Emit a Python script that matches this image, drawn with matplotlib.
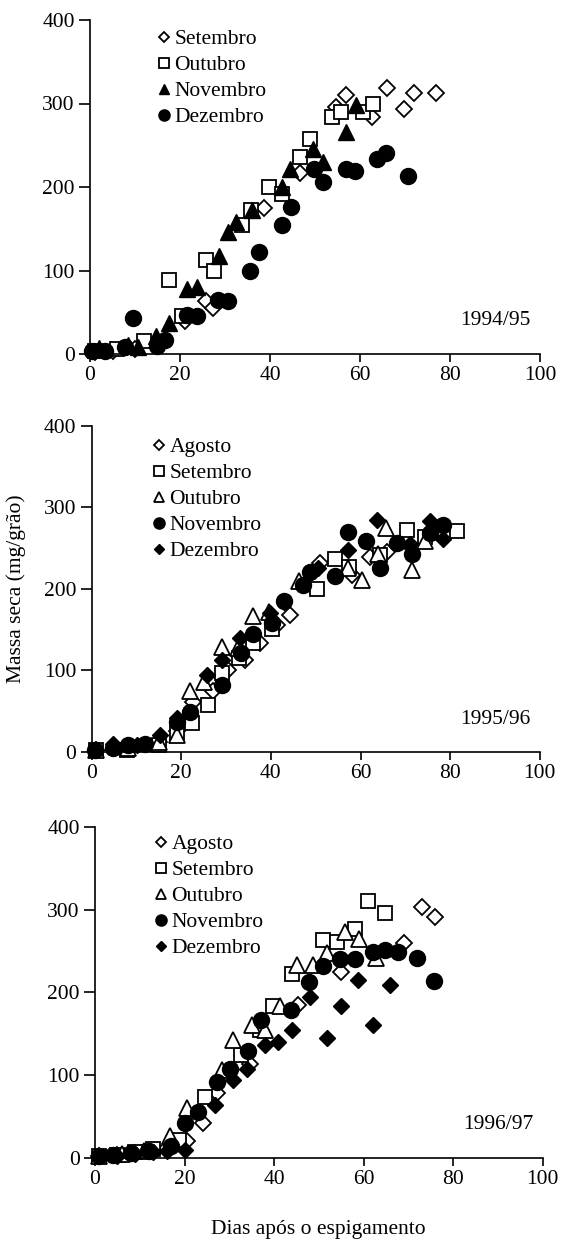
import matplotlib
matplotlib.use("Agg")
import matplotlib.pyplot as plt

plt.rcParams['font.family'] = ['Liberation Serif', 'DejaVu Serif']
plt.rcParams['font.size'] = 15.5

# ---------------- 1994/95 ----------------
set94_x = [1, 5, 10, 15, 21, 25.7, 27.4, 38.7, 46.7, 54.7, 56.9, 62.7, 65.9, 69.8, 71.9, 76.8]
set94_y = [2, 3, 6, 10, 40, 63, 55, 175, 217, 296, 310, 284, 319, 293, 312, 312]
out94_x = [1, 6, 12, 17.5, 20.5, 25.7, 27.6, 33.7, 35.7, 39.7, 42.6, 46.7, 48.8, 53.7, 55.7, 60.7, 62.8]
out94_y = [3, 6, 15, 89, 46, 112, 100, 154, 172, 200, 192, 236, 258, 284, 290, 290, 300]
nov94_x = [2, 8.5, 10.7, 14.6, 17.5, 21.6, 23.7, 28.6, 30.7, 32.4, 35.9, 42.6, 44.4, 49.6, 51.8, 56.9, 59.1]
nov94_y = [7, 11, 8, 22, 37, 78, 80, 117, 146, 158, 172, 200, 222, 246, 230, 266, 298]
dez94_x = [0.5, 3.3, 7.8, 9.6, 14.8, 16.7, 21.5, 23.7, 28.4, 30.6, 35.6, 37.6, 42.6, 44.6, 49.8, 51.8,
           56.9, 58.9, 63.7, 65.8, 70.7]
dez94_y = [3, 4, 8, 43, 10, 17, 47, 45, 65, 63, 99, 122, 154, 176, 222, 206, 221, 219, 233, 241, 213]

# ---------------- 1995/96 ----------------
ago95_x = [1, 8, 15, 19, 22.7, 27.1, 30.5, 34.2, 37.6, 41.3, 44.3, 51, 58, 62.1, 66, 70]
ago95_y = [2, 4, 12, 25, 61, 74, 100, 113, 133, 155, 168, 231, 217, 239, 245, 258]
set95_x = [1, 7.8, 15, 19, 22.3, 26, 29, 32.9, 36.1, 40.2, 50.2, 54.3, 57.4, 64.4, 70.3, 74.4, 81.5]
set95_y = [2, 2, 8, 23, 35, 57, 96, 115, 133, 150, 200, 237, 227, 241, 272, 264, 271]
out95_x = [1, 8, 15, 19, 22, 25, 29, 32.7, 36, 39.5, 46.3, 57.3, 60.3, 64, 65.8, 71.4, 74.4]
out95_y = [2, 5, 12, 20, 75, 86, 128, 127, 166, 171, 209, 225, 211, 243, 274, 223, 258]
nov95_x = [0.7, 4.8, 8.2, 11.9, 19, 21.9, 29, 33.3, 36.1, 40.2, 42.9, 47.2, 48.7, 54.3, 57.3, 61.2,
           64.4, 68.1, 71.4, 75.5, 78.5]
nov95_y = [2, 5, 8, 10, 37, 49, 82, 121, 145, 158, 185, 205, 221, 215, 270, 259, 225, 256, 243, 268, 278]
dez95_x = [1, 4.8, 10, 15.2, 19, 25.7, 29, 33.1, 39.8, 42.9, 50.5, 57.3, 63.6, 71, 75.5, 78.5]
dez95_y = [2, 10, 8, 20, 41, 94, 112, 139, 170, 184, 225, 247, 284, 255, 283, 261]

# ---------------- 1996/97 ----------------
ago96_x = [1, 5, 9, 13, 16, 20.5, 24.2, 27.2, 34.6, 45.3, 55, 69.1, 73, 76]
ago96_y = [2, 4, 6, 9, 12, 20, 42, 78, 114, 185, 224, 259, 303, 291]
set96_x = [1, 5, 9, 13, 18.8, 24.6, 32.6, 36.9, 39.8, 44, 51, 54, 58.1, 61.1, 64.8]
set96_y = [2, 4, 7, 11, 22, 74, 124, 155, 183, 222, 263, 261, 277, 310, 296]
out96_x = [1, 6, 11, 16.8, 20.5, 28.3, 30.9, 35, 38, 41.3, 45.1, 48.8, 51.8, 55.9, 59.1, 62.9]
out96_y = [2, 5, 8, 26, 60, 106, 143, 161, 155, 183, 233, 233, 247, 273, 264, 241]
nov96_x = [1, 4, 8, 12, 17, 20.1, 23.1, 27.2, 30.2, 34.3, 37.1, 43.9, 47.9, 50.9, 54.7, 58.1, 62.1,
           64.8, 67.8, 71.9, 75.8]
nov96_y = [3, 4, 6, 9, 14, 42, 56, 92, 108, 129, 167, 179, 213, 232, 240, 240, 249, 251, 249, 242, 214]
dez96_x = [1, 5, 9, 13, 16, 20.1, 26.8, 30.9, 34, 38, 41, 44, 48, 51.9, 54.9, 58.8, 62.1, 65.9]
dez96_y = [2, 3, 5, 7, 9, 10, 64, 94, 108, 136, 140, 154, 194, 145, 184, 215, 161, 209]

x_ticks = [0, 20, 40, 60, 80, 100]
y_ticks = [0, 100, 200, 300, 400]
xlabel = "Dias após o espigamento"
ylabel = "Massa seca (mg/grão)"

STYLE = {
    'open_diamond': dict(marker='D', ms=7.8, mfc='white', mec='black', mew=1.3),
    'open_square': dict(marker='s', ms=10.5, mfc='white', mec='black', mew=1.3),
    'open_triangle': dict(marker='^', ms=11, mfc='white', mec='black', mew=1.3),
    'filled_triangle': dict(marker='^', ms=11, mfc='black', mec='black', mew=1.0),
    'filled_circle': dict(marker='o', ms=11.5, mfc='black', mec='black', mew=1.0),
    'filled_diamond': dict(marker='D', ms=8, mfc='black', mec='black', mew=1.0),
}

panels = [
    dict(rect=[90, 20, 540, 354], year="1994/95",
         series=[("Setembro", set94_x, set94_y, 'open_diamond'),
                 ("Outubro", out94_x, out94_y, 'open_square'),
                 ("Novembro", nov94_x, nov94_y, 'filled_triangle'),
                 ("Dezembro", dez94_x, dez94_y, 'filled_circle')],
         leg=(155, 29)),
    dict(rect=[91.7, 425.7, 539.7, 751.7], year="1995/96",
         series=[("Agosto", ago95_x, ago95_y, 'open_diamond'),
                 ("Setembro", set95_x, set95_y, 'open_square'),
                 ("Outubro", out95_x, out95_y, 'open_triangle'),
                 ("Novembro", nov95_x, nov95_y, 'filled_circle'),
                 ("Dezembro", dez95_x, dez95_y, 'filled_diamond')],
         leg=(150, 437)),
    dict(rect=[95, 826.7, 542.5, 1158], year="1996/97",
         series=[("Agosto", ago96_x, ago96_y, 'open_diamond'),
                 ("Setembro", set96_x, set96_y, 'open_square'),
                 ("Outubro", out96_x, out96_y, 'open_triangle'),
                 ("Novembro", nov96_x, nov96_y, 'filled_circle'),
                 ("Dezembro", dez96_x, dez96_y, 'filled_diamond')],
         leg=(152, 834)),
]

W, H = 562, 1243
fig = plt.figure(figsize=(W / 100, H / 100), dpi=100)

axes = []
for p in panels:
    l, t, r, b = p['rect']
    ax = fig.add_axes([l / W, 1 - b / H, (r - l) / W, (b - t) / H])
    axes.append(ax)
    handles = []
    for name, xs, ys, st in p['series']:
        h, = ax.plot(xs, ys, linestyle='none', label=name, clip_on=False, **STYLE[st])
        handles.append(h)
    ax.set_xlim(0, 100)
    ax.set_ylim(0, 400)
    ax.set_xticks(x_ticks)
    ax.set_yticks(y_ticks)
    for s in ['top', 'right']:
        ax.spines[s].set_visible(False)
    for s in ['left', 'bottom']:
        ax.spines[s].set_linewidth(1.2)
    ax.tick_params(axis='y', direction='out', length=8, width=1.2, pad=3, labelsize=15.5)
    ax.tick_params(axis='x', direction='out', length=6, width=1.2, pad=3, labelsize=15.5)
    ax.text(98, 40, p['year'], ha='right', va='center', fontsize=15.5)
    lx, ly = p['leg']
    ax.legend(handles=handles, loc='upper left',
              bbox_to_anchor=((lx - l) / (r - l), (b - ly) / (b - t)),
              frameon=False, borderpad=0, borderaxespad=0, handlelength=0.8,
              handletextpad=0.1, labelspacing=0.28, markerscale=0.7, fontsize=15.5,
              numpoints=1)

axes[1].set_ylabel(ylabel, fontsize=15.5, labelpad=13)
axes[2].set_xlabel(xlabel, fontsize=15.5, labelpad=22)

fig.savefig("out.png", dpi=100)
